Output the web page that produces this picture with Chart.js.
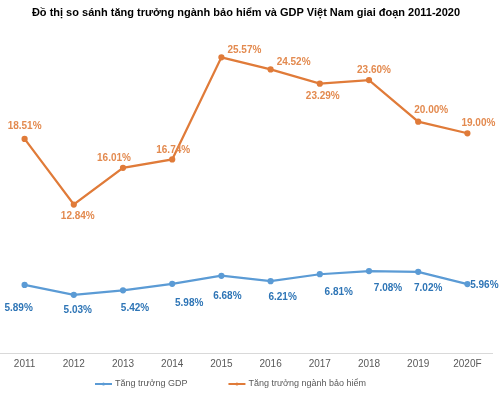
<!DOCTYPE html>
<html>
<head>
<meta charset="utf-8">
<script src="https://cdn.jsdelivr.net/npm/chart.js@4"></script>
<style>
  html, body { margin: 0; padding: 0; background: #fff; }
  #wrap { width: 500px; height: 395px; }
</style>
</head>
<body>
<div id="wrap"><canvas id="growth-chart"></canvas></div>
<script>
// Chart data
const years = ['2011', '2012', '2013', '2014', '2015', '2016', '2017', '2018', '2019', '2020F'];
const gdpGrowth = [5.89, 5.03, 5.42, 5.98, 6.68, 6.21, 6.81, 7.08, 7.02, 5.96];
const insuranceGrowth = [18.51, 12.84, 16.01, 16.74, 25.57, 24.52, 23.29, 23.60, 20.00, 19.00];

// Where each value label sits relative to its point (dx, dy)
const gdpLabelOffsets = [[-6, 23], [4, 15], [12, 18], [17, 19], [6, 20], [12, 16], [19, 18], [19, 17], [10, 16], [17, 1]];
const insLabelOffsets = [[0, -13], [4, 12], [-9, -10], [1, -9], [23, -7], [23, -7], [3, 13], [5, -10], [13, -11], [11, -10]];

const FONT = '"Liberation Sans", Arial, sans-serif';

// Draws value labels next to points, plus a legend under the axis
const extras = {
    id: 'extras',
    afterDatasetsDraw(chart) {
        const ctx = chart.ctx;
        ctx.save();
        ctx.font = 'bold 10px ' + FONT;
        ctx.textAlign = 'center';
        ctx.textBaseline = 'middle';
        chart.data.datasets.forEach((ds, i) => {
            const meta = chart.getDatasetMeta(i);
            meta.data.forEach((pt, j) => {
                const off = ds.labelOffsets[j];
                ctx.fillStyle = ds.labelColor;
                ctx.fillText(ds.data[j].toFixed(2) + '%', pt.x + off[0], pt.y + off[1]);
            });
        });

        // legend
        ctx.font = '9px ' + FONT;
        ctx.textAlign = 'left';
        let x = 95;
        const y = chart.height - 11;
        chart.data.datasets.forEach(ds => {
            ctx.strokeStyle = ds.borderColor;
            ctx.lineWidth = 2;
            ctx.beginPath();
            ctx.moveTo(x, y);
            ctx.lineTo(x + 17, y);
            ctx.stroke();
            ctx.fillStyle = ds.borderColor;
            ctx.beginPath();
            ctx.arc(x + 8.5, y, 1.5, 0, Math.PI * 2);
            ctx.fill();
            ctx.fillStyle = '#595959';
            ctx.fillText(ds.label, x + 20, y);
            x += 20 + ctx.measureText(ds.label).width + 41;
        });
        ctx.restore();
    }
};

new Chart(document.getElementById('growth-chart'), {
    type: 'line',
    data: {
        labels: years,
        datasets: [{
            label: 'Tăng trưởng GDP',
            data: gdpGrowth,
            borderColor: '#5B9BD5',
            backgroundColor: '#5B9BD5',
            borderWidth: 2.25,
            pointRadius: 2,
            tension: 0,
            labelColor: '#2E75B6',
            labelOffsets: gdpLabelOffsets
        }, {
            label: 'Tăng trưởng ngành bảo hiểm',
            data: insuranceGrowth,
            borderColor: '#E07B39',
            backgroundColor: '#E07B39',
            borderWidth: 2.25,
            pointRadius: 2,
            tension: 0,
            labelColor: '#E38A4F',
            labelOffsets: insLabelOffsets
        }]
    },
    options: {
        responsive: true,
        maintainAspectRatio: false,
        animation: false,
        layout: { autoPadding: false, padding: { left: 0, right: 8, top: 0, bottom: 20 } },
        plugins: {
            title: {
                display: true,
                text: 'Đồ thị so sánh tăng trưởng ngành bảo hiểm và GDP Việt Nam giai đoạn 2011-2020',
                color: '#000',
                font: { family: FONT, size: 11, weight: 'bold' },
                padding: { top: 6, bottom: 10 }
            },
            legend: { display: false },
            tooltip: { enabled: false }
        },
        scales: {
            x: {
                offset: true,
                grid: { display: false, drawTicks: false },
                border: { color: '#D9D9D9' },
                ticks: {
                    color: '#595959',
                    padding: 5,
                    font: { family: FONT, size: 10 }
                }
            },
            y: {
                display: false,
                min: 0,
                max: 28
            }
        }
    },
    plugins: [extras]
});
</script>
</body>
</html>
